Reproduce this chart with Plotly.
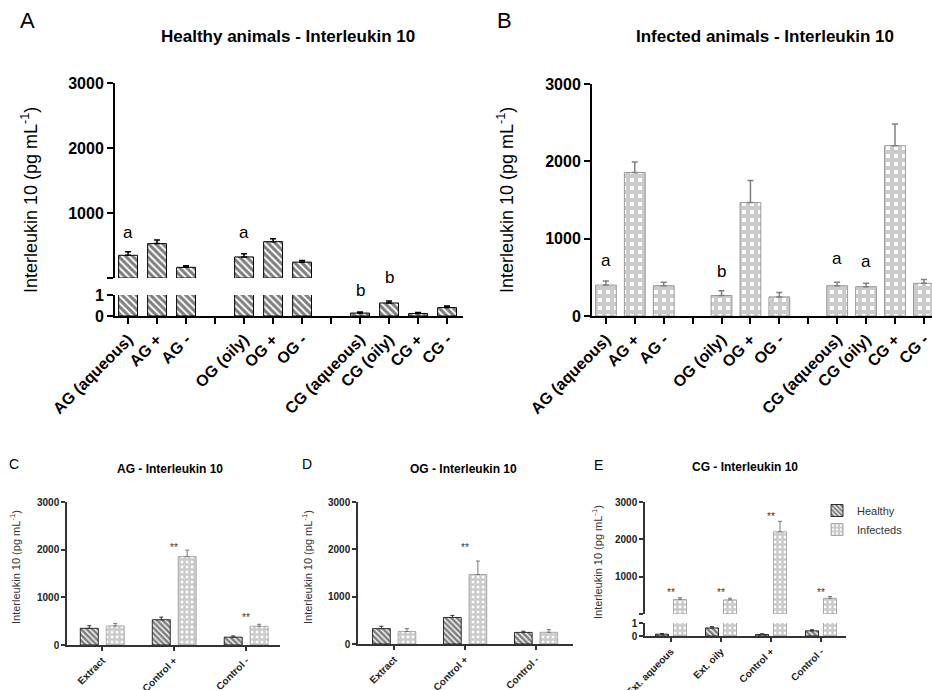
import plotly.graph_objects as go

W, H = 932, 690
def fx(p): return p / W
def fy(p): return 1 - p / H

FONT = "Liberation Sans, Arial, sans-serif"

# ---------------- data ----------------
# order: extract, control +, control -
ag_healthy = [350, 530, 165]
ag_healthy_err = [55, 55, 25]
og_healthy = [325, 560, 245]
og_healthy_err = [50, 45, 25]
ag_infected = [400, 1855, 392]
ag_infected_err = [52, 135, 43]
og_infected = [265, 1468, 247]
og_infected_err = [60, 285, 57]
# order: aqueous extract, oily extract, control +, control -
cg_healthy = [0.14, 0.62, 0.12, 0.40]
cg_healthy_err = [0.05, 0.10, 0.05, 0.08]
cg_infected = [392, 379, 2203, 422]
cg_infected_err = [45, 45, 280, 50]

top_labels = ["AG (aqueous)", "AG +", "AG -", "",
              "OG (oily)", "OG +", "OG -", "",
              "CG (aqueous)", "CG (oily)", "CG +", "CG -"]
ctrl_labels = ["Extract", "Control +", "Control -"]
cg_labels = ["Ext. aqueous", "Ext. oily", "Control +", "Control -"]
y_title = "Interleukin 10 (pg mL<sup>-1</sup>)"
BREAK = 1  # axis break value of the split axes

# slot positions for panels A/B (blank slots between groups)
pos_ag = [0, 1, 2]
pos_og = [4, 5, 6]
pos_cg = [8, 9, 10, 11]
posAB = pos_ag + pos_og + pos_cg
healthy_all = ag_healthy + og_healthy + cg_healthy
healthy_all_err = ag_healthy_err + og_healthy_err + cg_healthy_err
infected_all = ag_infected + og_infected + cg_infected
infected_all_err = ag_infected_err + og_infected_err + cg_infected_err

def above(vals):
    return [v if v > BREAK else None for v in vals]

def hatch(size=5, lw=1, sol=0.6):
    return dict(color="white", line=dict(color="black", width=lw),
                pattern=dict(shape="\\", fgcolor="black", bgcolor="white",
                             size=size, solidity=sol))

def checks(size=7, lw=1):
    return dict(color="white", line=dict(color="#999999", width=lw),
                pattern=dict(shape="+", fgcolor="#979797", bgcolor="white",
                             size=size, solidity=0.75))

def err(arr, color, thick=1.5, w=3):
    return dict(type="data", symmetric=False, array=arr,
                arrayminus=[0] * len(arr), color=color, thickness=thick, width=w)

fig = go.Figure()

# ---------- Panel A (broken axis) ----------
fig.add_trace(go.Bar(x=posAB, y=healthy_all, width=0.65,
                     marker=hatch(5), error_y=err(healthy_all_err, "black"),
                     xaxis="x", yaxis="y", showlegend=False))
fig.add_trace(go.Bar(x=posAB, y=above(healthy_all), width=0.65,
                     marker=hatch(5), error_y=err(healthy_all_err, "black"),
                     xaxis="x", yaxis="y2", showlegend=False))
# ---------- Panel B ----------
fig.add_trace(go.Bar(x=posAB, y=infected_all, width=0.72,
                     marker=checks(8), error_y=err(infected_all_err, "#808080"),
                     xaxis="x2", yaxis="y3", showlegend=False))
# ---------- Panel C ----------
xc = list(range(len(ctrl_labels)))
fig.add_trace(go.Bar(x=xc, y=ag_healthy, width=0.25, offset=-0.305,
                     marker=hatch(4, 0.8, 0.65), error_y=err(ag_healthy_err, "#333", 1, 2),
                     xaxis="x3", yaxis="y4", showlegend=False))
fig.add_trace(go.Bar(x=xc, y=ag_infected, width=0.25, offset=0.055,
                     marker=checks(5, 0.8), error_y=err(ag_infected_err, "#777", 1, 2),
                     xaxis="x3", yaxis="y4", showlegend=False))
# ---------- Panel D ----------
fig.add_trace(go.Bar(x=xc, y=og_healthy, width=0.25, offset=-0.305,
                     marker=hatch(4, 0.8, 0.65), error_y=err(og_healthy_err, "#333", 1, 2),
                     xaxis="x4", yaxis="y5", showlegend=False))
fig.add_trace(go.Bar(x=xc, y=og_infected, width=0.25, offset=0.055,
                     marker=checks(5, 0.8), error_y=err(og_infected_err, "#777", 1, 2),
                     xaxis="x4", yaxis="y5", showlegend=False))
# ---------- Panel E (broken axis) ----------
xe = list(range(len(cg_labels)))
fig.add_trace(go.Bar(x=xe, y=cg_healthy, width=0.26, offset=-0.31, name="Healthy",
                     marker=hatch(4, 0.8, 0.65), error_y=err(cg_healthy_err, "#333", 1, 2),
                     xaxis="x5", yaxis="y6", showlegend=True, legendrank=1))
fig.add_trace(go.Bar(x=xe, y=cg_infected, width=0.26, offset=0.05, name="Infecteds",
                     marker=checks(5, 0.8), error_y=err(cg_infected_err, "#777", 1, 2),
                     xaxis="x5", yaxis="y6", showlegend=True, legendrank=2))
fig.add_trace(go.Bar(x=xe, y=above(cg_healthy), width=0.26, offset=-0.31,
                     marker=hatch(4, 0.8, 0.65), error_y=err(cg_healthy_err, "#333", 1, 2),
                     xaxis="x5", yaxis="y7", showlegend=False))
fig.add_trace(go.Bar(x=xe, y=above(cg_infected), width=0.26, offset=0.05,
                     marker=checks(5, 0.8), error_y=err(cg_infected_err, "#777", 1, 2),
                     xaxis="x5", yaxis="y7", showlegend=False))

big_ax = dict(showline=True, linecolor="black", linewidth=2, ticks="outside",
              ticklen=6, tickwidth=2, tickcolor="black", showgrid=False, zeroline=False,
              automargin=False, ticklabeloverflow="allow",
              tickfont=dict(family=FONT, size=16, color="black", weight="bold"))
small_ax = dict(showline=True, linecolor="#333", linewidth=1.5, ticks="outside",
                ticklen=4, tickwidth=1.5, tickcolor="#333", showgrid=False, zeroline=False,
                automargin=False, ticklabeloverflow="allow",
                tickfont=dict(family=FONT, size=10, color="#222", weight="bold"))

lay = dict(
    width=W, height=H, margin=dict(l=0, r=0, t=0, b=0, pad=0, autoexpand=False),
    paper_bgcolor="white", plot_bgcolor="white", barmode="overlay",
    font=dict(family=FONT, color="black"),
    # A
    xaxis=dict(big_ax, domain=[fx(115), fx(463)], range=[-0.45, 11.55], anchor="y",
               tickmode="array", tickvals=list(range(12)), ticktext=top_labels, tickangle=-45),
    yaxis=dict(big_ax, domain=[fy(316), fy(295)], range=[0, BREAK], anchor="x",
               tickmode="array", tickvals=[0, 1], ticktext=["0", "1"]),
    yaxis2=dict(big_ax, domain=[fy(278), fy(83)], range=[BREAK, 3000], anchor="x",
                tickmode="array", tickvals=[BREAK, 1000, 2000, 3000],
                ticktext=["", "1000", "2000", "3000"]),
    # B
    xaxis2=dict(big_ax, domain=[fx(592), 1.0], range=[-0.48, 11.28], anchor="y3",
                tickmode="array", tickvals=list(range(12)), ticktext=top_labels, tickangle=-45),
    yaxis3=dict(big_ax, domain=[fy(316), fy(84)], range=[0, 3000], anchor="x2",
                tickmode="array", tickvals=[0, 1000, 2000, 3000]),
    # C
    xaxis3=dict(small_ax, domain=[fx(67), fx(280)], range=[-0.49, 2.47], anchor="y4",
                tickmode="array", tickvals=xc, ticktext=ctrl_labels, tickangle=-45),
    yaxis4=dict(small_ax, domain=[fy(645), fy(502)], range=[0, 3000], anchor="x3",
                tickmode="array", tickvals=[0, 1000, 2000, 3000]),
    # D
    xaxis4=dict(small_ax, domain=[fx(358), fx(573)], range=[-0.51, 2.52], anchor="y5",
                tickmode="array", tickvals=xc, ticktext=ctrl_labels, tickangle=-45),
    yaxis5=dict(small_ax, domain=[fy(644), fy(502)], range=[0, 3000], anchor="x4",
                tickmode="array", tickvals=[0, 1000, 2000, 3000]),
    # E
    xaxis5=dict(small_ax, domain=[fx(645), fx(846)], range=[-0.52, 3.5], anchor="y6",
                tickmode="array", tickvals=xe, ticktext=cg_labels, tickangle=-45),
    yaxis6=dict(small_ax, domain=[fy(636), fy(623)], range=[0, BREAK], anchor="x5",
                tickmode="array", tickvals=[0, 1], ticktext=["0", "1"]),
    yaxis7=dict(small_ax, domain=[fy(614), fy(502)], range=[BREAK, 3000], anchor="x5",
                tickmode="array", tickvals=[BREAK, 1000, 2000, 3000],
                ticktext=["", "1000", "2000", "3000"]),
    legend=dict(x=fx(817), y=fy(496), xanchor="left", yanchor="top",
                font=dict(family=FONT, size=11, color="#333"), bgcolor="rgba(0,0,0,0)",
                itemwidth=30, tracegroupgap=0),
)
fig.update_layout(**lay)

ann = []
def txt(x, y, s, size, bold=False, xref="paper", angle=0, color="black"):
    ann.append(dict(x=x, y=y, xref=xref, yref="paper", text=s, showarrow=False,
                    xanchor="center", yanchor="middle", textangle=angle,
                    font=dict(family=FONT, size=size, color=color,
                              weight="bold" if bold else "normal")))

# panel letters
txt(fx(27), fy(20), "A", 22)
txt(fx(504), fy(20), "B", 22)
txt(fx(14), fy(464), "C", 14)
txt(fx(307), fy(464), "D", 14)
txt(fx(598), fy(465), "E", 14)
# titles
txt(fx(288), fy(37), "Healthy animals - Interleukin 10", 17, True)
txt(fx(765), fy(37), "Infected animals - Interleukin 10", 17, True)
txt(fx(170), fy(469), "AG - Interleukin 10", 12, True)
txt(fx(463), fy(469), "OG - Interleukin 10", 12, True)
txt(fx(745), fy(467), "CG - Interleukin 10", 12, True)
# y titles
txt(fx(30), fy(200), y_title, 18, angle=-90)
txt(fx(506), fy(200), y_title, 18, angle=-90)
txt(fx(15), fy(567), y_title, 11, angle=-90, color="#333")
txt(fx(307), fy(567), y_title, 11, angle=-90, color="#333")
txt(fx(597), fy(562), y_title, 11, angle=-90, color="#333")
# significance letters A
txt(pos_ag[0], fy(232), "a", 17, xref="x")
txt(pos_og[0], fy(232), "a", 17, xref="x")
txt(pos_cg[0], fy(290), "b", 17, xref="x")
txt(pos_cg[1], fy(277), "b", 17, xref="x")
# significance letters B
txt(pos_ag[0], fy(260), "a", 17, xref="x2")
txt(pos_og[0], fy(271), "b", 17, xref="x2")
txt(pos_cg[0], fy(258), "a", 17, xref="x2")
txt(pos_cg[1], fy(262), "a", 17, xref="x2")
# stars
txt(1, fy(547), "**", 10, xref="x3", color="#333")
txt(2, fy(617), "**", 10, xref="x3", color="#333")
txt(1, fy(547), "**", 10, xref="x4", color="#333")
txt(0, fy(592), "**", 10, xref="x5", color="#333")
txt(1, fy(592), "**", 10, xref="x5", color="#333")
txt(2, fy(516), "**", 10, xref="x5", color="#333")
txt(3, fy(592), "**", 10, xref="x5", color="#333")
fig.update_layout(annotations=ann)

fig.write_html("out.html")
